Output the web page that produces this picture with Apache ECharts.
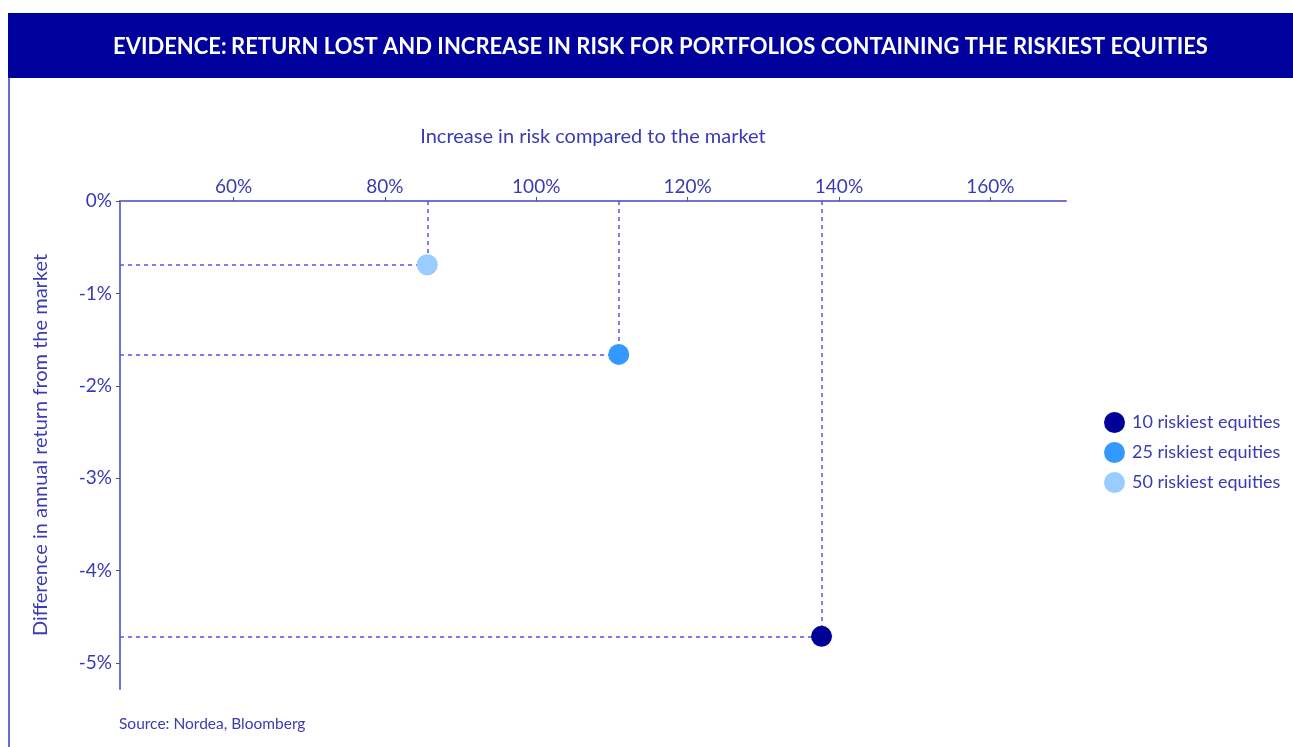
<!DOCTYPE html>
<html>
<head>
<meta charset="utf-8">
<script src="https://cdn.jsdelivr.net/npm/echarts@6/dist/echarts.min.js"></script>
<style>
html,body{margin:0;padding:0;background:#fff;}
#c{width:1293px;height:747px;}
</style>
</head>
<body>
<div id="c"></div>
<script>
// Data
const seriesNames = ['10 riskiest equities', '25 riskiest equities', '50 riskiest equities'];
const riskIncrease = [137.7, 110.9, 85.6];      // % increase in risk vs market
const returnDiff = [-4.71, -1.66, -0.69];        // % difference in annual return
const xTicks = [60, 80, 100, 120, 140, 160];
const yTicks = [0, -1, -2, -3, -4, -5];
const xMin = 45, xMax = 170, yMin = -5.28, yMax = 0;

const colors = ['#000099', '#3399ff', '#99ccff'];
const font = 'Lato, "Open Sans", sans-serif';
const textColor = '#3a3ab4';

const chart = echarts.init(document.getElementById('c'), null, {renderer: 'canvas'});

const guideData = [];
riskIncrease.forEach((x, i) => {
  const y = returnDiff[i];
  guideData.push([{coord: [xMin, y]}, {coord: [x, y]}]);
  guideData.push([{coord: [x, yMax]}, {coord: [x, y]}]);
});

const series = seriesNames.map((name, i) => ({
  name: name,
  type: 'scatter',
  symbolSize: 21,
  itemStyle: {color: colors[i], opacity: 1},
  data: [[riskIncrease[i], returnDiff[i]]],
  z: 5
}));
series.unshift({
  name: 'guides',
  type: 'line',
  data: [],
  z: 1,
  markLine: {
    silent: true,
    symbol: ['none', 'none'],
    animation: false,
    label: {show: false},
    lineStyle: {color: '#5555ee', width: 1.5, type: [4, 4]},
    data: guideData
  }
});

chart.setOption({
  animation: false,
  backgroundColor: '#ffffff',
  textStyle: {fontFamily: font},
  graphic: [
    {type: 'rect', left: 8, top: 13, shape: {width: 1290, height: 65}, style: {fill: '#00009c'}, z: 0},
    {type: 'line', shape: {x1: 9, y1: 78, x2: 9, y2: 747}, style: {stroke: '#6b6bd0', lineWidth: 2}, z: 0},
    {type: 'text', left: 119, top: 716, style: {text: 'Source: Nordea, Bloomberg', fill: textColor, font: '15.5px ' + font}}
  ],
  title: {
    text: '{b|EVIDENCE:} {n|RETURN LOST AND INCREASE IN RISK FOR PORTFOLIOS CONTAINING THE RISKIEST EQUITIES}',
    left: 108,
    top: 31,
    textStyle: {
      rich: {
        b: {color: '#ffffff', fontWeight: 'bold', fontSize: 22, fontFamily: font},
        n: {color: '#ffffff', fontSize: 22, fontFamily: font}
      }
    }
  },
  legend: {
    orient: 'vertical',
    left: 1099,
    top: 407,
    icon: 'circle',
    itemWidth: 21,
    itemHeight: 21,
    itemGap: 9,
    textStyle: {color: textColor, fontSize: 18, fontFamily: font, padding: [0, 0, 0, 2]},
    data: seriesNames
  },
  grid: {left: 120, top: 201, right: 227, bottom: 58, containLabel: false},
  xAxis: {
    type: 'value',
    position: 'top',
    min: xMin,
    max: xMax,
    name: 'Increase in risk compared to the market',
    nameLocation: 'middle',
    nameGap: 54,
    nameTextStyle: {color: textColor, fontSize: 20, fontFamily: font},
    splitLine: {show: false},
    axisLine: {show: true, lineStyle: {color: '#7272d4', width: 2}},
    axisTick: {show: true, customValues: xTicks, length: 4, inside: false, lineStyle: {color: '#555', width: 1}},
    axisLabel: {customValues: xTicks, color: textColor, fontSize: 19, fontFamily: font, margin: 5, formatter: v => v + '%'}
  },
  yAxis: {
    type: 'value',
    min: yMin,
    max: yMax,
    name: 'Difference in annual return from the market',
    nameLocation: 'middle',
    nameGap: 69,
    nameTextStyle: {color: textColor, fontSize: 20, fontFamily: font},
    splitLine: {show: false},
    axisLine: {show: true, lineStyle: {color: '#7272d4', width: 2}},
    axisTick: {show: true, customValues: yTicks, length: 4, lineStyle: {color: '#555', width: 1}},
    axisLabel: {customValues: yTicks, color: textColor, fontSize: 19, fontFamily: font, margin: 8, formatter: v => v + '%'}
  },
  series: series
});
</script>
</body>
</html>
